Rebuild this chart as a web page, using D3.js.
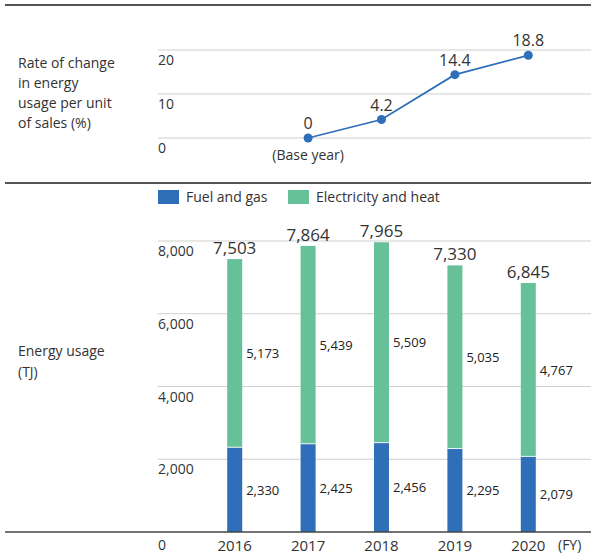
<!DOCTYPE html>
<html>
<head>
<meta charset="utf-8">
<script src="https://cdn.jsdelivr.net/npm/d3@7"></script>
<style>
  html, body { margin: 0; padding: 0; background: #fff; }
  svg { display: block; font-family: "Open Sans", "Noto Sans", sans-serif; }
</style>
</head>
<body>
<svg id="chart" width="591" height="555"></svg>
<script>
// Fiscal years shown on both panels
const years = ["2016", "2017", "2018", "2019", "2020"];

// Energy usage (TJ) by source
const fuelGas = [2330, 2425, 2456, 2295, 2079];
const electricityHeat = [5173, 5439, 5509, 5035, 4767];
const totals = [7503, 7864, 7965, 7330, 6845];

// Rate of change in energy usage per unit of sales (%), 2017 = base year
const rateYears = ["2017", "2018", "2019", "2020"];
const rateValues = [0, 4.2, 14.4, 18.8];

// Axis ticks
const rateTicks = [0, 10, 20];
const usageTicks = [0, 2000, 4000, 6000, 8000];

const seriesNames = ["Fuel and gas", "Electricity and heat"];
const colors = { fuel: "#2f6fba", elec: "#66c198", line: "#2f6fba" };
const textColor = "#333";
const gridColor = "#cfcfcf";

const svg = d3.select("#chart");
const W = 591;

// Shared horizontal position for each fiscal year
const x = d3.scalePoint().domain(years).range([234.7, 528.3]);

// ---- separator rules ----
svg.append("line").attr("x1", 5).attr("x2", W).attr("y1", 5).attr("y2", 5)
  .attr("stroke", "#555").attr("stroke-width", 2);
svg.append("line").attr("x1", 5).attr("x2", W).attr("y1", 183).attr("y2", 183)
  .attr("stroke", "#555").attr("stroke-width", 2);

// ---- top panel: rate of change ----
const yRate = d3.scaleLinear().domain([0, 20]).range([138, 50]);
const ratePanel = svg.append("g");

ratePanel.selectAll("line.grid").data(rateTicks).join("line")
  .attr("class", "grid")
  .attr("x1", 158).attr("x2", W)
  .attr("y1", d => yRate(d)).attr("y2", d => yRate(d))
  .attr("stroke", gridColor).attr("stroke-width", 1);

ratePanel.selectAll("text.tick").data(rateTicks).join("text")
  .attr("class", "tick")
  .attr("x", 158).attr("y", d => yRate(d) + 15)
  .attr("font-size", 14).attr("fill", textColor)
  .text(d => d3.format(",")(d));

const rateLabel = ["Rate of change", "in energy", "usage per unit", "of sales (%)"];
ratePanel.append("text").attr("x", 18).attr("y", 68)
  .attr("font-size", 14).attr("fill", textColor)
  .selectAll("tspan").data(rateLabel).join("tspan")
  .attr("x", 18).attr("dy", (d, i) => i === 0 ? 0 : 20)
  .text(d => d);

const rateLine = d3.line()
  .x((d, i) => x(rateYears[i]))
  .y(d => yRate(d));

ratePanel.append("path").datum(rateValues)
  .attr("d", rateLine)
  .attr("fill", "none").attr("stroke", colors.line).attr("stroke-width", 1.8);

ratePanel.selectAll("circle").data(rateValues).join("circle")
  .attr("cx", (d, i) => x(rateYears[i])).attr("cy", d => yRate(d))
  .attr("r", 4.5).attr("fill", colors.line);

ratePanel.selectAll("text.val").data(rateValues).join("text")
  .attr("class", "val")
  .attr("x", (d, i) => x(rateYears[i])).attr("y", d => yRate(d) - 9)
  .attr("text-anchor", "middle").attr("font-size", 16).attr("fill", textColor)
  .text(d => d);

ratePanel.append("text")
  .attr("x", x(rateYears[0])).attr("y", yRate(0) + 22)
  .attr("text-anchor", "middle").attr("font-size", 14).attr("fill", textColor)
  .text("(Base year)");

// ---- legend ----
const legend = svg.append("g");
const legendItems = [
  { name: seriesNames[0], color: colors.fuel, x: 158 },
  { name: seriesNames[1], color: colors.elec, x: 288 }
];
legend.selectAll("rect").data(legendItems).join("rect")
  .attr("x", d => d.x).attr("y", 190).attr("width", 21).attr("height", 14)
  .attr("fill", d => d.color);
legend.selectAll("text").data(legendItems).join("text")
  .attr("x", d => d.x + 28).attr("y", 202)
  .attr("font-size", 14).attr("fill", textColor)
  .text(d => d.name);

// ---- bottom panel: energy usage stacked bars ----
const yUse = d3.scaleLinear().domain([0, 8000]).range([532, 241]);
const usagePanel = svg.append("g");

usagePanel.selectAll("line.grid").data(usageTicks.filter(d => d > 0)).join("line")
  .attr("class", "grid")
  .attr("x1", 158).attr("x2", W)
  .attr("y1", d => yUse(d)).attr("y2", d => yUse(d))
  .attr("stroke", gridColor).attr("stroke-width", 1);

usagePanel.selectAll("text.tick").data(usageTicks).join("text")
  .attr("class", "tick")
  .attr("x", 158).attr("y", d => yUse(d) + (d === 0 ? 18 : 15))
  .attr("font-size", 14).attr("fill", textColor)
  .text(d => d3.format(",")(d));

const usageLabel = ["Energy usage", "(TJ)"];
usagePanel.append("text").attr("x", 18).attr("y", 356)
  .attr("font-size", 14).attr("fill", textColor)
  .selectAll("tspan").data(usageLabel).join("tspan")
  .attr("x", 18).attr("dy", (d, i) => i === 0 ? 0 : 21)
  .text(d => d);

const rows = years.map((yr, i) => ({ year: yr, fuel: fuelGas[i], elec: electricityHeat[i], total: totals[i] }));
const stack = d3.stack().keys(["fuel", "elec"]);
const layers = stack(rows);
const barW = 15;

usagePanel.selectAll("g.layer").data(layers).join("g")
  .attr("class", "layer")
  .attr("fill", d => d.key === "fuel" ? colors.fuel : colors.elec)
  .selectAll("rect").data(d => d).join("rect")
  .attr("x", d => x(d.data.year) - barW / 2)
  .attr("width", barW)
  .attr("y", d => yUse(d[1]))
  .attr("height", d => yUse(d[0]) - yUse(d[1]));

// thin light seam between the two segments
usagePanel.selectAll("line.seam").data(rows).join("line")
  .attr("class", "seam")
  .attr("x1", d => x(d.year) - barW / 2).attr("x2", d => x(d.year) + barW / 2)
  .attr("y1", d => yUse(d.fuel)).attr("y2", d => yUse(d.fuel))
  .attr("stroke", "#e8f3ee").attr("stroke-width", 1);

// segment values beside each bar
layers.forEach(layer => {
  usagePanel.selectAll("text.seg-" + layer.key).data(layer).join("text")
    .attr("class", "seg-" + layer.key)
    .attr("x", d => x(d.data.year) + barW / 2 + 4)
    .attr("y", d => (yUse(d[0]) + yUse(d[1])) / 2 + 5)
    .attr("font-size", 13).attr("fill", "#222")
    .text(d => d3.format(",")(d.data[layer.key]));
});

// totals above each bar
usagePanel.selectAll("text.total").data(rows).join("text")
  .attr("class", "total")
  .attr("x", d => x(d.year)).attr("y", d => yUse(d.total) - 5)
  .attr("text-anchor", "middle").attr("font-size", 17).attr("fill", textColor)
  .text(d => d3.format(",")(d.total));

// baseline
usagePanel.append("line").attr("x1", 5).attr("x2", W)
  .attr("y1", yUse(0)).attr("y2", yUse(0))
  .attr("stroke", "#444").attr("stroke-width", 1.6);

// year labels
usagePanel.selectAll("text.year").data(years).join("text")
  .attr("class", "year")
  .attr("x", d => x(d)).attr("y", 551)
  .attr("text-anchor", "middle").attr("font-size", 15).attr("fill", textColor)
  .text(d => d);

usagePanel.append("text").attr("x", 558).attr("y", 550)
  .attr("font-size", 14).attr("fill", textColor)
  .text("(FY)");
</script>
</body>
</html>
